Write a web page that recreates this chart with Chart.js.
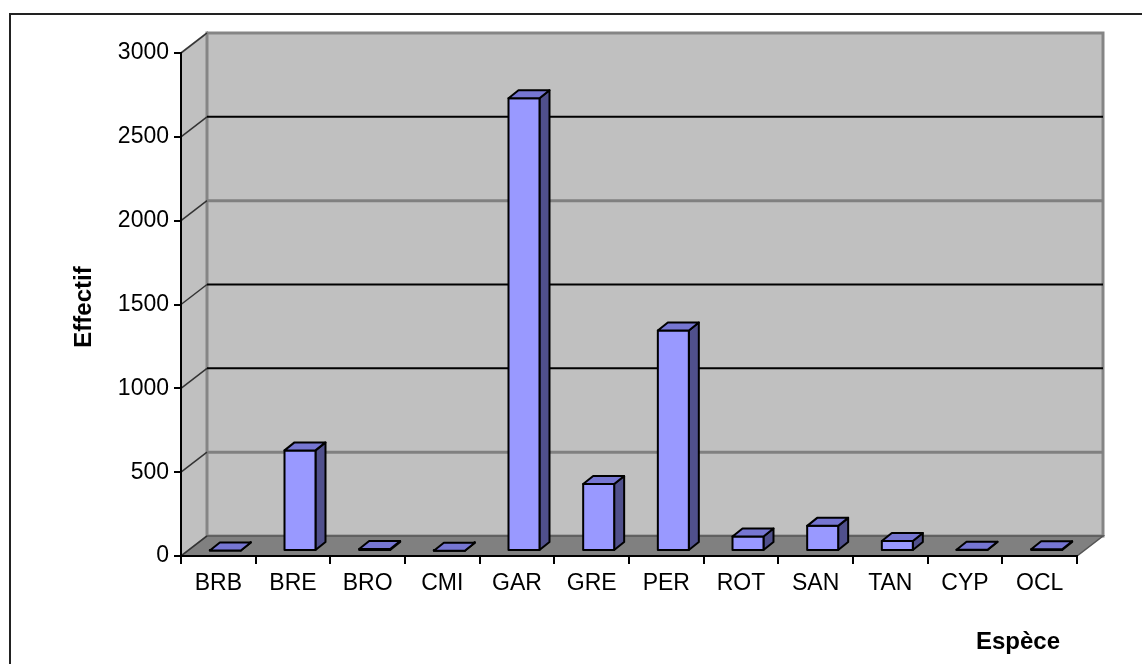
<!DOCTYPE html>
<html>
<head>
<meta charset="utf-8">
<title>Effectif par espèce</title>
<script src="https://cdn.jsdelivr.net/npm/chart.js@4.4.0/dist/chart.umd.min.js"></script>
<style>
  html, body { margin: 0; padding: 0; background: #fff; }
  canvas { display: block; }
</style>
</head>
<body>
<canvas id="effectifChart" width="1142" height="664"></canvas>
<script>
const especes = ['BRB', 'BRE', 'BRO', 'CMI', 'GAR', 'GRE', 'PER', 'ROT', 'SAN', 'TAN', 'CYP', 'OCL'];
const effectifs = [3, 600, 12, 2, 2700, 400, 1315, 86, 150, 60, 8, 10];
const yMax = 3000;
const yStep = 500;

const FONT = "'Liberation Sans', Arial, sans-serif";

// depth of the walls and of each bar (pixels)
const WALL_DX = 26, WALL_DY = -20;
const BAR_SHIFT_X = 7, BAR_SHIFT_Y = -5;
const BAR_DX = 10, BAR_DY = -8;

const gridColors = { 500: '#808080', 2000: '#808080' };

function poly(ctx, pts, fill, stroke, lw) {
    ctx.beginPath();
    ctx.moveTo(pts[0][0], pts[0][1]);
    for (let i = 1; i < pts.length; i++) ctx.lineTo(pts[i][0], pts[i][1]);
    ctx.closePath();
    if (fill) { ctx.fillStyle = fill; ctx.fill(); }
    if (stroke) { ctx.strokeStyle = stroke; ctx.lineWidth = lw || 1; ctx.stroke(); }
}

const excel3d = {
    id: 'excel3d',
    beforeDraw(chart) {
        const ctx = chart.ctx;
        const area = chart.chartArea;
        const yScale = chart.scales.y;
        const left = area.left, right = area.right;
        const top = yScale.getPixelForValue(yMax);
        const bottom = yScale.getPixelForValue(0);

        ctx.save();
        ctx.fillStyle = '#fff';
        ctx.fillRect(0, 0, chart.width, chart.height);

        // outer frame
        ctx.beginPath();
        ctx.moveTo(10, chart.height);
        ctx.lineTo(10, 14);
        ctx.lineTo(chart.width, 14);
        ctx.strokeStyle = '#222';
        ctx.lineWidth = 2;
        ctx.stroke();

        ctx.lineJoin = 'miter';
        // side wall
        poly(ctx, [[left, top], [left + WALL_DX, top + WALL_DY], [left + WALL_DX, bottom + WALL_DY], [left, bottom]], '#c0c0c0', '#808080', 2);
        // back wall
        poly(ctx, [[left + WALL_DX, top + WALL_DY], [right + WALL_DX, top + WALL_DY], [right + WALL_DX, bottom + WALL_DY], [left + WALL_DX, bottom + WALL_DY]], '#c0c0c0', '#858585', 3);
        // floor
        poly(ctx, [[left, bottom], [left + WALL_DX, bottom + WALL_DY], [right + WALL_DX, bottom + WALL_DY], [right, bottom]], '#808080', '#555', 1.5);

        // gridlines on the back wall and their diagonals on the side wall
        yScale.ticks.forEach(t => {
            const y = yScale.getPixelForValue(t.value);
            if (t.value > 0 && t.value < yMax) {
                const grey = gridColors[t.value];
                ctx.beginPath();
                ctx.moveTo(left + WALL_DX, y + WALL_DY);
                ctx.lineTo(right + WALL_DX, y + WALL_DY);
                ctx.strokeStyle = grey || '#000';
                ctx.lineWidth = grey ? 3 : 2;
                ctx.stroke();
            }
            ctx.beginPath();
            ctx.moveTo(left, y);
            ctx.lineTo(left + WALL_DX, y + WALL_DY);
            ctx.strokeStyle = '#333';
            ctx.lineWidth = 1.5;
            ctx.stroke();
        });
        ctx.restore();
    },
    afterDatasetsDraw(chart) {
        const ctx = chart.ctx;
        const meta = chart.getDatasetMeta(0);
        ctx.save();
        ctx.lineJoin = 'round';
        meta.data.forEach(bar => {
            const p = bar.getProps(['x', 'y', 'base', 'width'], true);
            const x0 = p.x - p.width / 2 + BAR_SHIFT_X;
            const x1 = x0 + p.width;
            const yTop = p.y + BAR_SHIFT_Y;
            const yBot = p.base + BAR_SHIFT_Y;
            // side face
            poly(ctx, [[x1, yBot], [x1 + BAR_DX, yBot + BAR_DY], [x1 + BAR_DX, yTop + BAR_DY], [x1, yTop]], '#50508c', '#000', 2);
            // front face
            poly(ctx, [[x0, yTop], [x1, yTop], [x1, yBot], [x0, yBot]], '#9999ff', '#000', 2);
            // top face
            poly(ctx, [[x0, yTop], [x0 + BAR_DX, yTop + BAR_DY], [x1 + BAR_DX, yTop + BAR_DY], [x1, yTop]], '#7676d2', '#000', 2);
        });
        ctx.restore();
    },
    afterDraw(chart) {
        const ctx = chart.ctx;
        ctx.save();
        ctx.fillStyle = '#000';
        ctx.font = 'bold 24px ' + FONT;
        ctx.textAlign = 'center';
        ctx.textBaseline = 'middle';
        ctx.fillText('Espèce', 1018, 642);
        ctx.translate(84, 307);
        ctx.rotate(-Math.PI / 2);
        ctx.fillText('Effectif', 0, 0);
        ctx.restore();
    }
};

new Chart(document.getElementById('effectifChart').getContext('2d'), {
    type: 'bar',
    data: {
        labels: especes,
        datasets: [{
            label: 'Effectif',
            data: effectifs,
            backgroundColor: 'rgba(0,0,0,0)',
            borderWidth: 0,
            categoryPercentage: 0.415,
            barPercentage: 1
        }]
    },
    options: {
        responsive: false,
        animation: false,
        events: [],
        layout: {
            padding: { top: 53, right: 65, left: 10, bottom: 0 }
        },
        plugins: {
            legend: { display: false },
            tooltip: { enabled: false }
        },
        scales: {
            x: {
                offset: true,
                grid: {
                    offset: true,
                    drawOnChartArea: false,
                    drawTicks: true,
                    tickLength: 8,
                    color: '#000',
                    lineWidth: 2
                },
                border: { display: true, color: '#000', width: 2 },
                ticks: {
                    color: '#000',
                    font: { family: FONT, size: 23 },
                    padding: 6,
                    maxRotation: 0,
                    autoSkip: false
                },
                afterFit: s => { s.height = 108; }
            },
            y: {
                min: 0,
                max: yMax,
                grid: {
                    drawOnChartArea: false,
                    drawTicks: true,
                    tickLength: 7,
                    color: '#000',
                    lineWidth: 2
                },
                border: { display: true, color: '#000', width: 2 },
                ticks: {
                    stepSize: yStep,
                    color: '#000',
                    font: { family: FONT, size: 23 },
                    padding: 5,
                    callback: v => String(v)
                },
                afterFit: s => { s.width = 171; }
            }
        }
    },
    plugins: [excel3d]
});
</script>
</body>
</html>
